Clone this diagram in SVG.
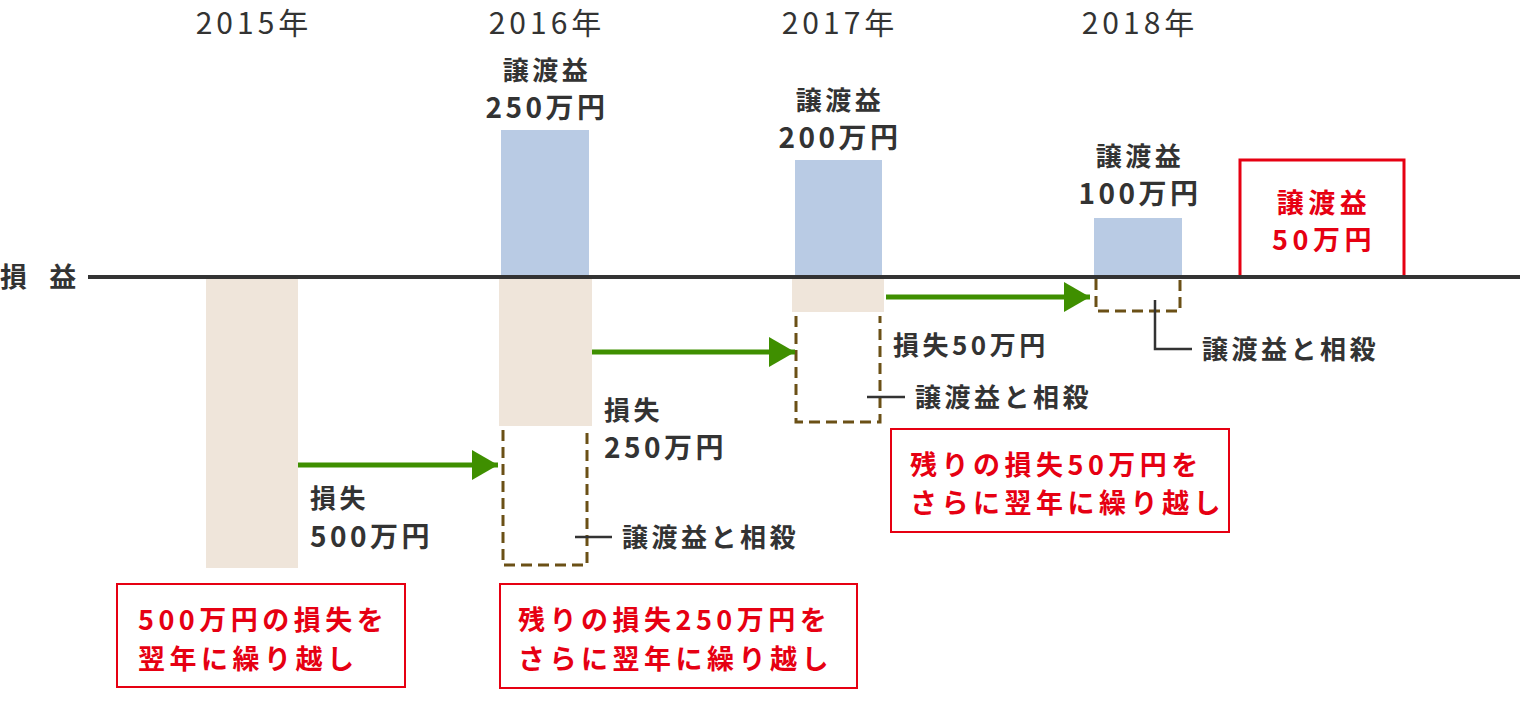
<svg xmlns="http://www.w3.org/2000/svg" width="1520" height="704" viewBox="0 0 1520 704">
<defs>
<style>
text{font-family:"Noto Sans CJK JP","Noto Sans",sans-serif;fill:#333;}
.yr{font-size:30px;font-weight:400;text-anchor:middle;letter-spacing:4px;}
.b{font-weight:700;font-size:26px;letter-spacing:3.5px;}
.c{text-anchor:middle;}
.big{font-size:28px;}
.red{fill:#e60012;font-size:27px;letter-spacing:4.5px;}
.loss{fill:#efe5da;}
.gain{fill:#b9cbe4;}
.dash{fill:none;stroke:#6b5016;stroke-width:3;stroke-dasharray:11 6;}
.rb{fill:none;stroke:#e60012;stroke-width:2;}
.rb3{fill:none;stroke:#e60012;stroke-width:3;}
.arr{stroke:#3f8f00;stroke-width:5;fill:none;marker-end:url(#ah);}
.tick{stroke:#333;stroke-width:2.5;fill:none;}
</style>
<marker id="ah" markerUnits="userSpaceOnUse" markerWidth="30" markerHeight="32" refX="28" refY="15" orient="auto"><path d="M2,0 L28,15 L2,30 Z" fill="#3f8f00"/></marker>
</defs>
<g id="years">
<text class="yr" x="254" y="34">2015年</text>
<text class="yr" x="547" y="34">2016年</text>
<text class="yr" x="840" y="34">2017年</text>
<text class="yr" x="1140" y="34">2018年</text>
</g>
<g id="axis">
<text class="b" x="0" y="287" style="font-size:27px;letter-spacing:8px">損 益</text>
</g>
<g id="y2015">
<rect class="loss" x="206" y="279" width="92" height="289"/>
<text class="b" x="310" y="508">損失</text>
<text class="b big" x="310" y="547">500万円</text>
<rect class="rb" x="117" y="584" width="288" height="103"/>
<text class="b red" x="138" y="630">500万円の損失を</text>
<text class="b red" x="138" y="669">翌年に繰り越し</text>
</g>
<g id="y2016">
<rect class="gain" x="501" y="130" width="88" height="147"/>
<text class="b c" x="547" y="80">譲渡益</text>
<text class="b c big" x="547" y="118">250万円</text>
<rect class="loss" x="499" y="279" width="93" height="147"/>
<path class="dash" d="M503,430 V565 H587 V430"/>
<text class="b" x="604" y="420">損失</text>
<text class="b big" x="604" y="458">250万円</text>
<text class="b" x="622" y="547">譲渡益と相殺</text>
<rect class="rb" x="500" y="584" width="357" height="104"/>
<text class="b red" x="518" y="630">残りの損失250万円を</text>
<text class="b red" x="518" y="669">さらに翌年に繰り越し</text>
</g>
<g id="y2017">
<rect class="gain" x="795" y="160" width="87" height="117"/>
<text class="b c" x="840" y="110">譲渡益</text>
<text class="b c big" x="840" y="148">200万円</text>
<rect class="loss" x="792" y="279" width="92" height="33"/>
<path class="dash" d="M796,316 V422 H880 V316"/>
<text class="b" x="893" y="355">損失50万円</text>
<text class="b" x="915" y="407">譲渡益と相殺</text>
<rect class="rb" x="891" y="429" width="338" height="103"/>
<text class="b red" x="910" y="475">残りの損失50万円を</text>
<text class="b red" x="910" y="513">さらに翌年に繰り越し</text>
</g>
<g id="y2018">
<rect class="gain" x="1094" y="218" width="88" height="59"/>
<text class="b c" x="1140" y="166">譲渡益</text>
<text class="b c big" x="1140" y="204">100万円</text>
<path class="dash" d="M1096,279 V311 H1180 V279"/>
<text class="b" x="1202" y="359">譲渡益と相殺</text>
</g>
<g id="result">
<path class="rb3" d="M1240,277 V160 H1404 V277"/>
<text class="b c red" x="1324" y="213">譲渡益</text>
<text class="b c red big" x="1324" y="250">50万円</text>
</g>
<g id="connectors">
<line x1="88" y1="277" x2="1520" y2="277" stroke="#333" stroke-width="4"/>
<line class="arr" x1="298" y1="465" x2="498" y2="465"/>
<line class="arr" x1="592" y1="352" x2="795" y2="352"/>
<line class="arr" x1="886" y1="297" x2="1090" y2="297"/>
<line class="tick" x1="575" y1="537" x2="612" y2="537"/>
<line class="tick" x1="867" y1="397" x2="905" y2="397"/>
<path class="tick" d="M1155,300 V349 H1192"/>
</g>
</svg>
